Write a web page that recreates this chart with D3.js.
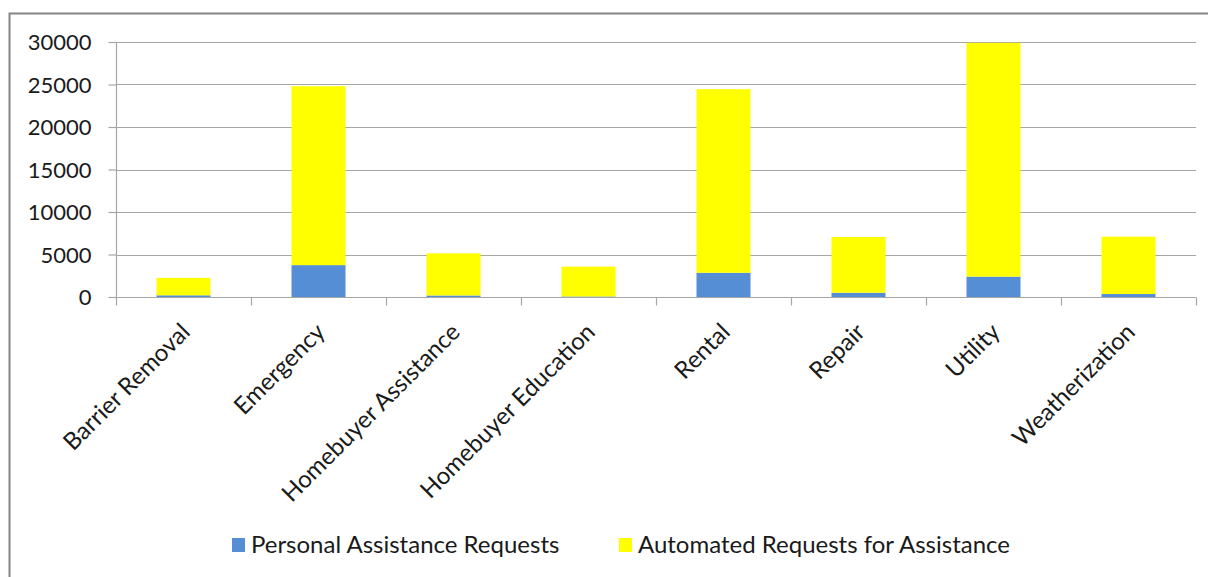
<!DOCTYPE html>
<html>
<head>
<meta charset="utf-8">
<script src="https://cdn.jsdelivr.net/npm/d3@7"></script>
<style>
  body { margin: 0; background: #fff; }
  text { font-family: Lato, "Open Sans", sans-serif; fill: #1a1a1a; }
</style>
</head>
<body>
<svg id="chart" width="1208" height="577"></svg>
<script>
// chart data
var categories = ["Barrier Removal", "Emergency", "Homebuyer Assistance", "Homebuyer Education",
                  "Rental", "Repair", "Utility", "Weatherization"];
var personal  = [200, 3750, 180, 60, 2850, 500, 2400, 350];
var automated = [2050, 21050, 4950, 3510, 21600, 6560, 27500, 6750];
var yTicks = [0, 5000, 10000, 15000, 20000, 25000, 30000];
var seriesNames = ["Personal Assistance Requests", "Automated Requests for Assistance"];
var seriesColours = ["#558ed5", "#ffff00"];

var svg = d3.select("#chart");
var plotLeft = 116, plotRight = 1196, plotTop = 42, plotBottom = 297;

// outer frame
svg.append("rect")
  .attr("x", 9.5).attr("y", 13.5)
  .attr("width", 1210).attr("height", 600)
  .attr("fill", "none").attr("stroke", "#868686").attr("stroke-width", 2);

var x = d3.scaleBand().domain(categories).range([plotLeft, plotRight]).paddingInner(0.6).paddingOuter(0.3);
var xb = d3.scaleBand().domain(categories).range([plotLeft, plotRight]);
var y = d3.scaleLinear().domain([0, 30000]).range([plotBottom, plotTop]);

// gridlines
svg.append("g").selectAll("line")
  .data(yTicks.slice(1))
  .enter().append("line")
  .attr("x1", plotLeft).attr("x2", plotRight)
  .attr("y1", function(d) { return Math.round(y(d)) + 0.5; })
  .attr("y2", function(d) { return Math.round(y(d)) + 0.5; })
  .attr("stroke", "#a6a6a6").attr("stroke-width", 1.2);

// stacked bars
var rows = categories.map(function(c, i) {
  return {cat: c, personal: personal[i], automated: automated[i]};
});
var stack = d3.stack().keys(["personal", "automated"])(rows);

svg.append("g").selectAll("g")
  .data(stack)
  .enter().append("g")
  .attr("fill", function(d, i) { return seriesColours[i]; })
  .selectAll("rect")
  .data(function(d) { return d; })
  .enter().append("rect")
  .attr("x", function(d) { return x(d.data.cat); })
  .attr("width", x.bandwidth())
  .attr("y", function(d) { return y(d[1]); })
  .attr("height", function(d) { return y(d[0]) - y(d[1]); });

// y axis
var yAxis = svg.append("g")
  .attr("transform", "translate(" + (plotLeft + 0.5) + ",0)")
  .call(d3.axisLeft(y).tickValues(yTicks).tickSize(8).tickPadding(17).tickFormat(d3.format("d")));
yAxis.selectAll("line").attr("stroke", "#a6a6a6").attr("stroke-width", 1.2);
yAxis.select(".domain").attr("stroke", "#a6a6a6").attr("stroke-width", 1.2)
  .attr("d", "M0," + plotTop + "V" + plotBottom);
yAxis.selectAll("text").style("font-size", "22px").attr("dy", "0.36em").style("fill", "#1a1a1a");

// x axis
var xAxisG = svg.append("g").attr("transform", "translate(0," + (plotBottom + 0.5) + ")");
xAxisG.append("line").attr("x1", plotLeft).attr("x2", plotRight)
  .attr("stroke", "#a6a6a6").attr("stroke-width", 1.2);
xAxisG.selectAll(".tk")
  .data(categories.concat(["end"]))
  .enter().append("line")
  .attr("x1", function(d, i) { return Math.round(plotLeft + i * xb.bandwidth()) + 0.5; })
  .attr("x2", function(d, i) { return Math.round(plotLeft + i * xb.bandwidth()) + 0.5; })
  .attr("y1", 0).attr("y2", 8)
  .attr("stroke", "#a6a6a6").attr("stroke-width", 1.2);
xAxisG.selectAll(".lbl")
  .data(categories)
  .enter().append("text")
  .attr("text-anchor", "end")
  .style("font-size", "24px")
  .attr("transform", function(d) {
    return "translate(" + (xb(d) + xb.bandwidth() / 2 + 8) + ",36) rotate(-45)";
  })
  .text(function(d) { return d; });

// legend
var legend = svg.append("g").attr("transform", "translate(232,538)");
var legendX = [0, 387];
seriesNames.forEach(function(name, i) {
  var g = legend.append("g").attr("transform", "translate(" + legendX[i] + ",0)");
  g.append("rect").attr("width", 13).attr("height", 14).attr("fill", seriesColours[i]);
  g.append("text").attr("x", 19).attr("y", 7).attr("dy", "0.35em")
    .style("font-size", "24px").text(name);
});
</script>
</body>
</html>
